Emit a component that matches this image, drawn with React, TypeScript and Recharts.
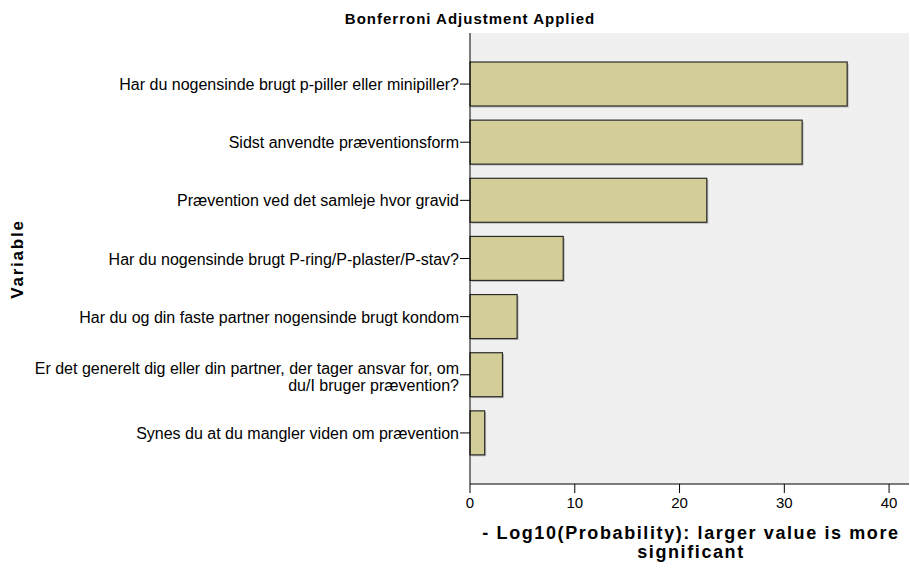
import { BarChart, Bar, XAxis, YAxis, CartesianGrid } from "recharts";

const variables = [
  "Har du nogensinde brugt p-piller eller minipiller?",
  "Sidst anvendte præventionsform",
  "Prævention ved det samleje hvor gravid",
  "Har du nogensinde brugt P-ring/P-plaster/P-stav?",
  "Har du og din faste partner nogensinde brugt kondom",
  "Er det generelt dig eller din partner, der tager ansvar for, om\ndu/I bruger prævention?",
  "Synes du at du mangler viden om prævention",
];
const logP = [36.0, 31.7, 22.6, 8.9, 4.5, 3.1, 1.4];
const xTicks = [0, 10, 20, 30, 40];

const data = variables.map((name, i) => ({ name, value: logP[i] }));

const FONT = "Arial, 'Liberation Sans', sans-serif";

function VariableTick(props: any) {
  const { x, y, payload } = props;
  const lines = String(payload.value).split("\n");
  const offsets = lines.length > 1 ? [-1, 16] : [6];
  return (
    <g>
      {lines.map((line, i) => (
        <text
          key={i}
          x={x}
          y={y + offsets[i]}
          textAnchor="end"
          fontSize={16}
          fontFamily={FONT}
          fill="#000"
        >
          {line}
        </text>
      ))}
    </g>
  );
}

function ShadowBar(props: any) {
  const { x, y, width, height } = props;
  if (!width || width <= 0) return null;
  return (
    <g>
      <rect x={x + 1.5} y={y + 1.5} width={width} height={height} fill="#9a9a9a" opacity={0.6} />
      <rect x={x} y={y} width={width} height={height} fill="#d3ce97" stroke="#2b2b2b" strokeWidth={1.2} />
    </g>
  );
}

export default function App() {
  return (
    <div
      style={{
        position: "absolute",
        left: 0,
        top: 0,
        width: 910,
        height: 572,
        background: "#fff",
        fontFamily: FONT,
      }}
    >
      <div
        style={{
          position: "absolute",
          left: 270,
          width: 400,
          top: 10,
          textAlign: "center",
          fontWeight: "bold",
          fontSize: 15,
          letterSpacing: 1,
          lineHeight: "18px",
        }}
      >
        Bonferroni Adjustment Applied
      </div>
      <div
        style={{
          position: "absolute",
          left: 17.5 - 60,
          top: 258.5 - 10,
          width: 120,
          height: 20,
          lineHeight: "20px",
          textAlign: "center",
          fontWeight: "bold",
          fontSize: 17,
          letterSpacing: 1.8,
          transform: "rotate(-90deg)",
        }}
      >
        Variable
      </div>
      <div
        style={{
          position: "absolute",
          left: 471,
          width: 440,
          top: 524,
          textAlign: "center",
          fontWeight: "bold",
          fontSize: 18,
          letterSpacing: 1.6,
          lineHeight: "19px",
        }}
      >
        - Log10(Probability): larger value is more
        <br />
        significant
      </div>
      <BarChart
        width={910}
        height={572}
        data={data}
        layout="vertical"
        margin={{ top: 33, right: 1, bottom: 0, left: 0 }}
        style={{ position: "absolute", left: 0, top: 0 }}
      >
        <CartesianGrid horizontal={false} vertical={false} fill="#f0f0f0" />
        <XAxis
          type="number"
          domain={[0, 41.9]}
          ticks={xTicks}
          height={88}
          tickSize={9}
          tickMargin={4}
          stroke="#000"
          tick={{ fill: "#000", fontSize: 15, fontFamily: FONT }}
          interval={0}
        />
        <XAxis
          xAxisId="top"
          orientation="top"
          type="number"
          domain={[0, 41.9]}
          height={0}
          tick={false}
          tickLine={false}
          stroke="#000"
        />
        <YAxis
          type="category"
          dataKey="name"
          width={470}
          tickSize={10}
          tickMargin={1}
          padding={{ top: 22, bottom: 22 }}
          stroke="#000"
          tick={<VariableTick />}
          interval={0}
        />
        <YAxis
          yAxisId="right"
          orientation="right"
          type="number"
          width={0}
          tick={false}
          tickLine={false}
          stroke="#000"
        />
        <Bar dataKey="value" barSize={44} shape={<ShadowBar />} isAnimationActive={false} />
      </BarChart>
    </div>
  );
}
